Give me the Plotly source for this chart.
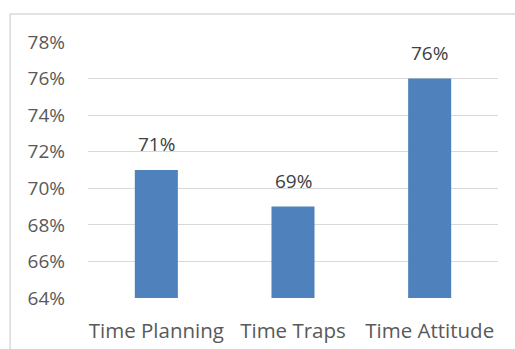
import plotly.graph_objects as go

categories = ["Time Planning", "Time Traps", "Time Attitude"]
values = [71, 69, 76]
labels = ["71%", "69%", "76%"]

fig = go.Figure()
fig.add_trace(go.Bar(
    x=categories, y=values, marker=dict(color="#4f81bd", line=dict(width=0)),
    width=0.315, showlegend=False,
))
for c, v, t in zip(categories, values, labels):
    fig.add_annotation(x=c, y=v, text=t, showarrow=False, yanchor="bottom",
                       yshift=11, font=dict(family="Open Sans", size=19, color="#404040"))

fig.add_shape(type="rect", xref="paper", yref="paper",
              x0=-0.190, x1=1.08, y0=-0.25, y1=1.109,
              line=dict(color="#d9d9d9", width=1.5), fillcolor="rgba(0,0,0,0)", layer="below")

fig.update_layout(
    width=515, height=349,
    margin=dict(l=88, r=17, t=42, b=51),
    paper_bgcolor="white", plot_bgcolor="white",
    font=dict(family="Open Sans", size=19, color="#595959"),
    bargap=0.685,
    yaxis=dict(range=[64, 78], dtick=2, ticksuffix="%", showgrid=True, automargin=False,
               gridcolor="#d9d9d9", gridwidth=1, zeroline=False, showline=False,
               ticks="", ticklabelstandoff=22, tickfont=dict(size=19, color="#595959")),
    xaxis=dict(showgrid=False, showline=False, ticks="", ticklabelstandoff=18, automargin=False,
               tickfont=dict(size=20.5, color="#595959")),
)

fig.write_html("out.html")
